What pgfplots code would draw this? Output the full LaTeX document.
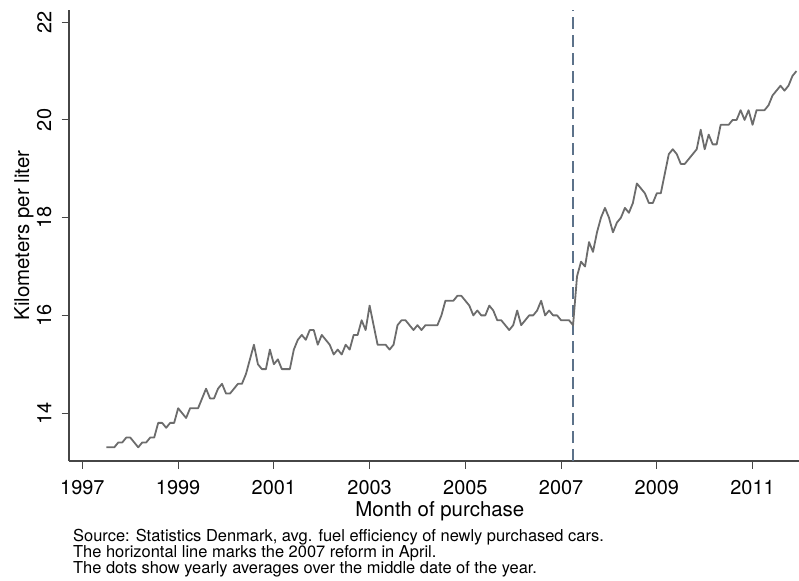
\documentclass[border=0pt]{standalone}
\usepackage{pgfplots}
\pgfplotsset{compat=1.18}
\usepackage{pgfplotstable}
\usepackage{fontspec}
\setmainfont{TeX Gyre Heros}

\definecolor{lineg}{RGB}{108,108,108}
\definecolor{refline}{RGB}{92,114,138}
\definecolor{axg}{RGB}{70,70,70}

% monthly km per liter, July 1997 to December 2011
\pgfplotstableread{
kpl
13.3
13.3
13.3
13.4
13.4
13.5
13.5
13.4
13.3
13.4
13.4
13.5
13.5
13.8
13.8
13.7
13.8
13.8
14.1
14.0
13.9
14.1
14.1
14.1
14.3
14.5
14.3
14.3
14.5
14.6
14.4
14.4
14.5
14.6
14.6
14.8
15.1
15.4
15.0
14.9
14.9
15.3
15.0
15.1
14.9
14.9
14.9
15.3
15.5
15.6
15.5
15.7
15.7
15.4
15.6
15.5
15.4
15.2
15.3
15.2
15.4
15.3
15.6
15.6
15.9
15.7
16.2
15.8
15.4
15.4
15.4
15.3
15.4
15.8
15.9
15.9
15.8
15.7
15.8
15.7
15.8
15.8
15.8
15.8
16.0
16.3
16.3
16.3
16.4
16.4
16.3
16.2
16.0
16.1
16.0
16.0
16.2
16.1
15.9
15.9
15.8
15.7
15.8
16.1
15.8
15.9
16.0
16.0
16.1
16.3
16.0
16.1
16.0
16.0
15.9
15.9
15.9
15.8
16.8
17.1
17.0
17.5
17.3
17.7
18.0
18.2
18.0
17.7
17.9
18.0
18.2
18.1
18.3
18.7
18.6
18.5
18.3
18.3
18.5
18.5
18.9
19.3
19.4
19.3
19.1
19.1
19.2
19.3
19.4
19.8
19.4
19.7
19.5
19.5
19.9
19.9
19.9
20.0
20.0
20.2
20.0
20.2
19.9
20.2
20.2
20.2
20.3
20.5
20.6
20.7
20.6
20.7
20.9
21.0
}\fuel

\begin{document}
\begin{tikzpicture}
\path[use as bounding box] (-69bp,-120bp) rectangle (730bp,461bp);
\begin{axis}[
    at={(0,0)}, anchor=south west,
    scale only axis,
    width=730bp, height=451bp,
    xmin=1996.72, xmax=2011.97,
    ymin=13.02, ymax=22.25,
    axis x line*=bottom, axis y line*=left,
    axis line style={axg, line width=1.1bp, -},
    xtick={1997,1999,...,2011},
    ytick={14,16,...,22},
    minor tick num=0,
    tick align=outside,
    major tick length=7.5bp,
    tick style={axg, line width=1.1bp},
    /pgf/number format/1000 sep={},
    /pgf/number format/assume math mode=true,
    xticklabel style={font=\fontsize{20}{20}\selectfont, inner sep=0pt, anchor=north, yshift=-12bp},
    yticklabel style={font=\fontsize{20}{20}\selectfont, inner sep=0pt, xshift=-10bp, rotate=90, anchor=south},
    xlabel={Month of purchase},
    ylabel={Kilometers per liter},
    xlabel style={font=\fontsize{20.5}{24}\selectfont, inner sep=0pt,
        at={(axis description cs:0.508,0)}, anchor=north, yshift=-40bp},
    ylabel style={font=\fontsize{20.5}{24}\selectfont, inner sep=0pt,
        at={(axis description cs:-0.0548,0.5)}, anchor=base},
]
\addplot[refline, line width=1.5bp, dash pattern=on 12bp off 6bp]
  coordinates {(2007.25,13.02) (2007.25,22.25)};
\addplot[lineg, line width=1.8bp, line join=round]
  table[x expr=1997.5+\coordindex/12, y=kpl] {\fuel};
\end{axis}
\node[anchor=north west, align=left, inner sep=0pt,
      font=\fontsize{16.5}{16.3}\selectfont] at (4bp,-68bp)
  {Source: Statistics Denmark, avg. fuel efficiency of newly purchased cars.\\
   The horizontal line marks the 2007 reform in April.\\
   The dots show yearly averages over the middle date of the year.};
\end{tikzpicture}
\end{document}
